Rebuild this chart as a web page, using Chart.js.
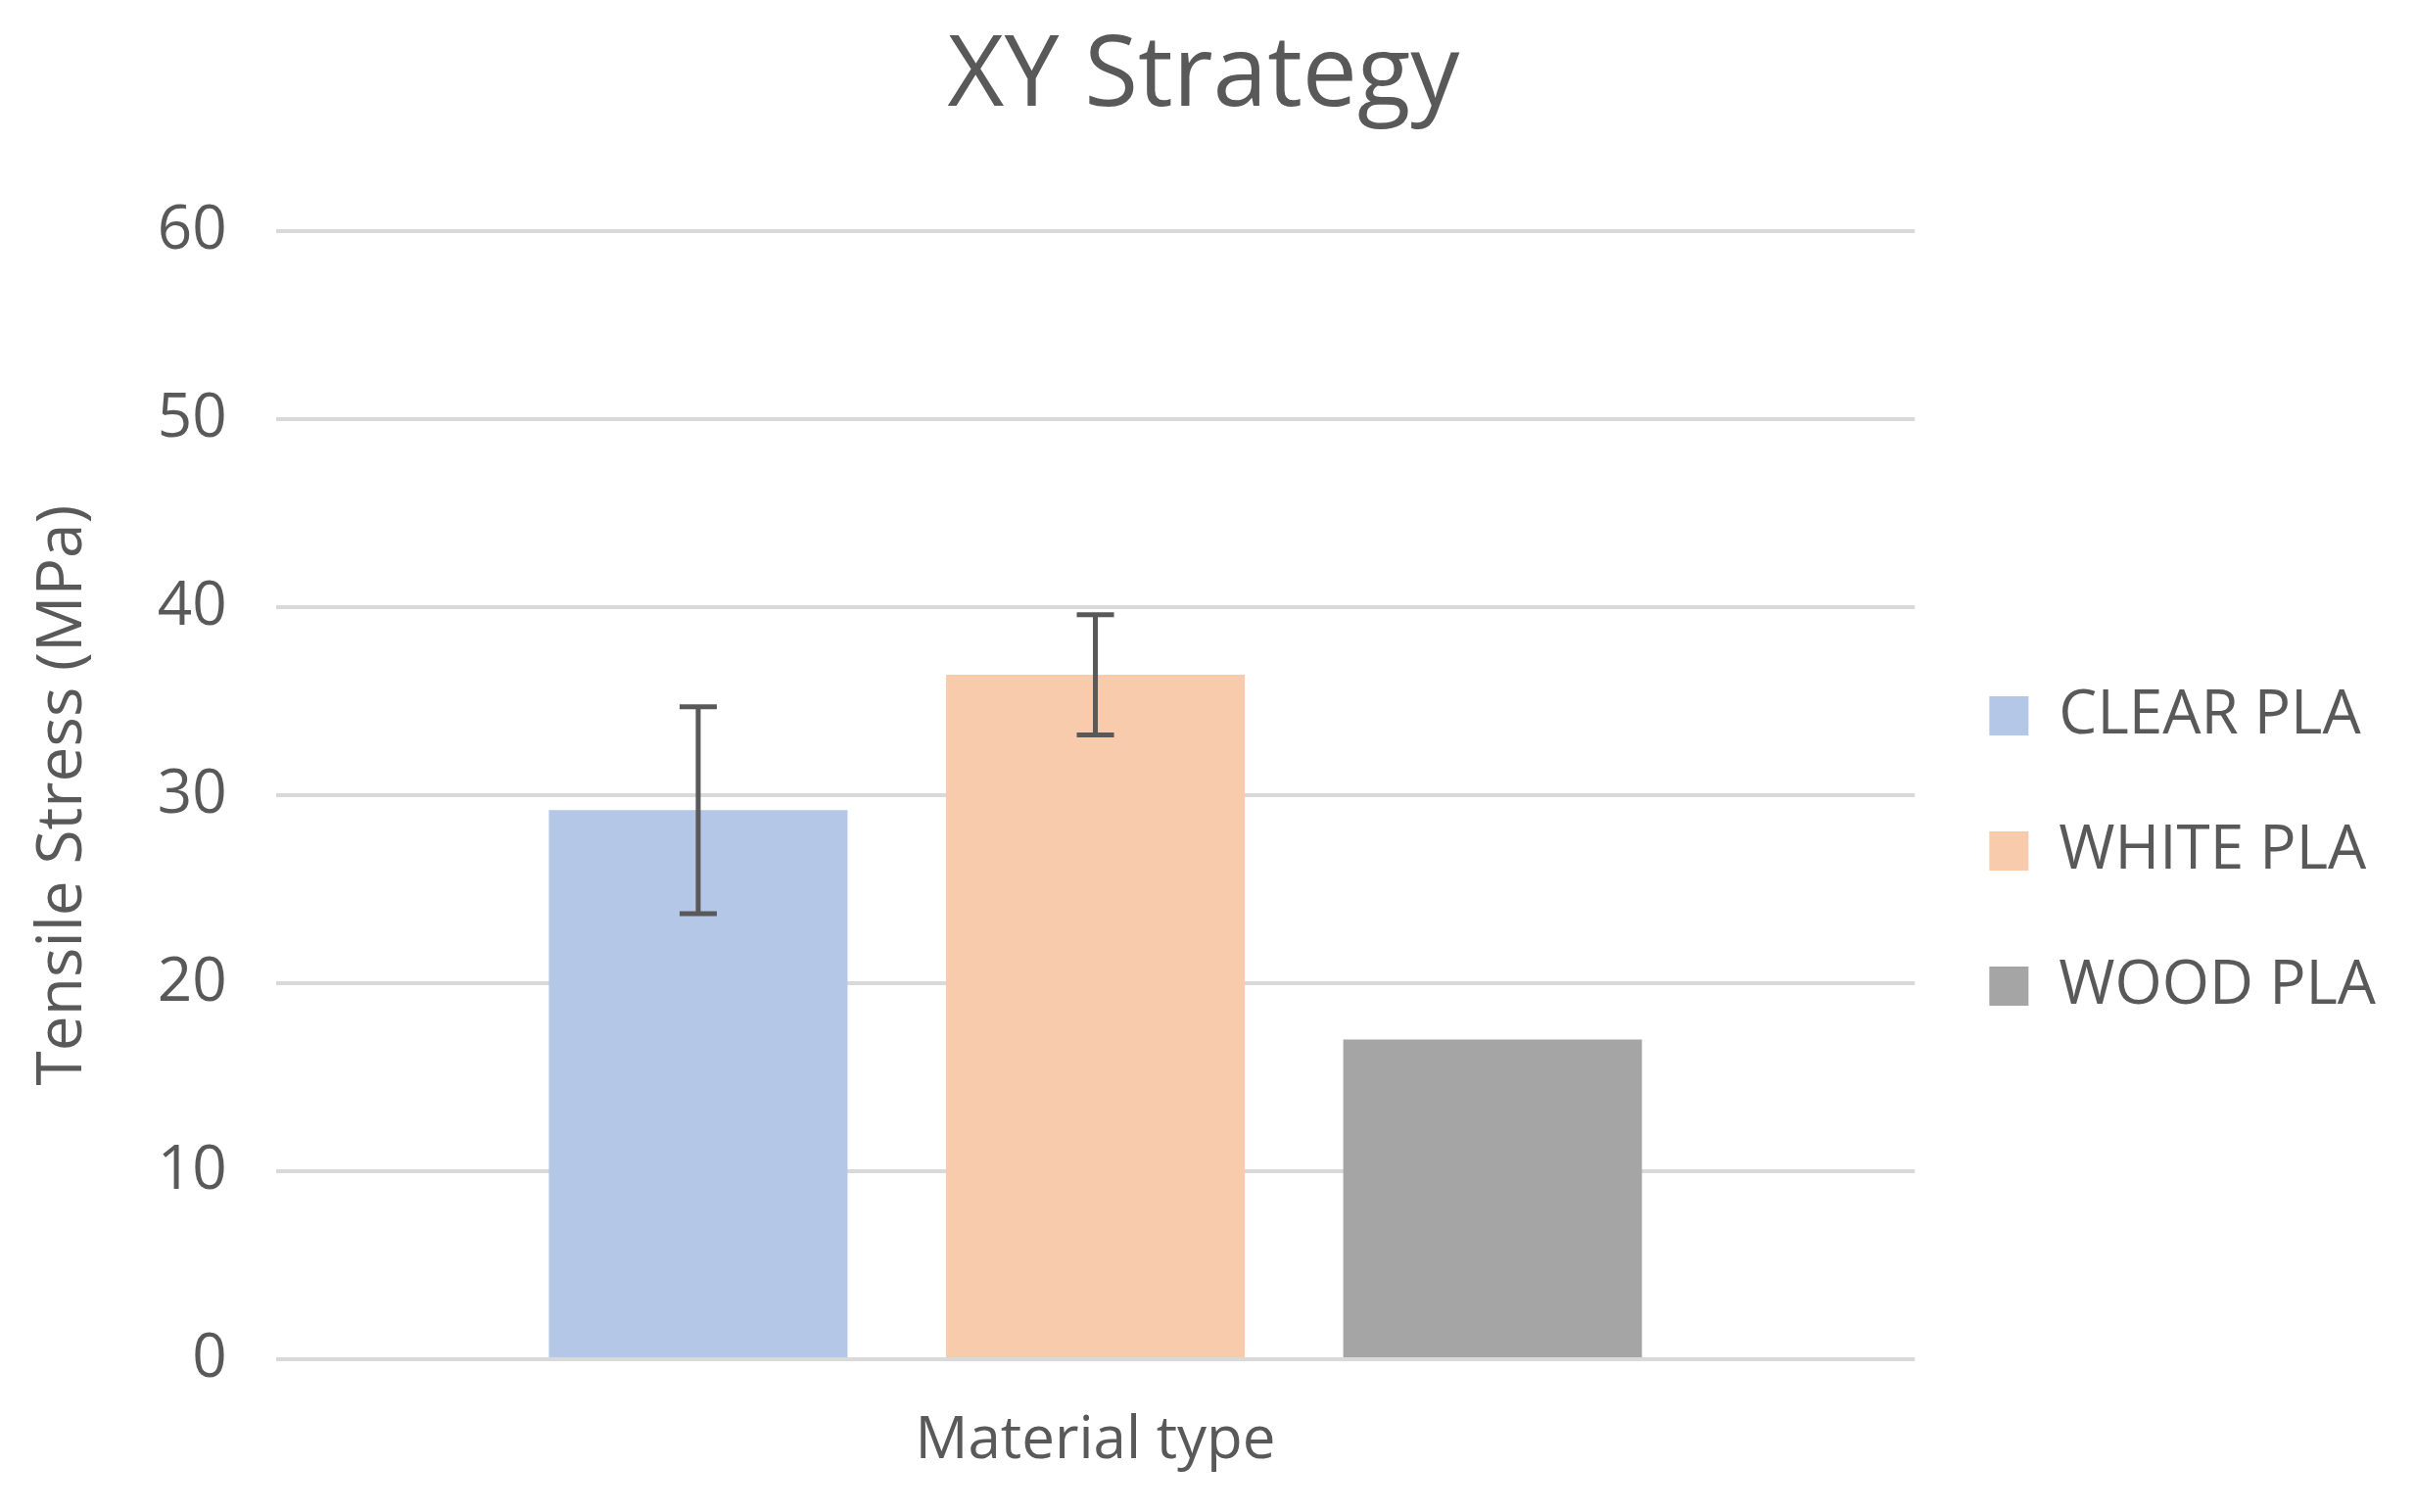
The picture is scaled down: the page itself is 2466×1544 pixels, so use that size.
<!DOCTYPE html>
<html><head><meta charset="utf-8">
<script src="https://cdn.jsdelivr.net/npm/chart.js@4"></script>
<style>html,body{margin:0;background:#fff}#w{width:2466px;height:1544px}</style>
</head><body><div id="w"><canvas id="c"></canvas></div>
<script>
const categories = ['Material type'];
const seriesNames = ['CLEAR PLA','WHITE PLA','WOOD PLA'];
const seriesValues = [29.2, 36.4, 17.0];
const seriesErrors = [5.5, 3.2, null];
const seriesColors = ['#b4c7e7','#f8cbad','#a5a5a5'];
const yTicks = [0,10,20,30,40,50,60];

const errPlugin = {
  id:'err',
  afterDatasetsDraw(chart){
    const ctx=chart.ctx, y=chart.scales.y;
    chart.data.datasets.forEach((ds,i)=>{
      const e=seriesErrors[i]; if(e==null) return;
      const bar=chart.getDatasetMeta(i).data[0];
      const x=bar.x, v=seriesValues[i];
      const t=y.getPixelForValue(v+e), b=y.getPixelForValue(v-e);
      ctx.save(); ctx.strokeStyle='#595959'; ctx.lineWidth=5;
      ctx.beginPath(); ctx.moveTo(x,t); ctx.lineTo(x,b);
      ctx.moveTo(x-19,t); ctx.lineTo(x+19,t);
      ctx.moveTo(x-19,b); ctx.lineTo(x+19,b); ctx.stroke(); ctx.restore();
    });
  }
};
Chart.defaults.font.family='"Open Sans", sans-serif';
Chart.defaults.color='#595959';
new Chart(document.getElementById('c'),{
  type:'bar',
  data:{labels:categories,datasets:seriesNames.map((n,i)=>({label:n,data:[seriesValues[i]],backgroundColor:seriesColors[i]}))},
  options:{responsive:true,maintainAspectRatio:false,animation:false,
    categoryPercentage:0.727,barPercentage:0.752,
    layout:{padding:{left:22,right:30,top:20,bottom:32}},
    plugins:{
      title:{display:true,text:'XY Strategy',font:{size:100,weight:'normal'},color:'#595959',padding:{top:0,bottom:96}},
      legend:{position:'right',
        title:{display:true,text:' ',font:{size:60},padding:{top:0,bottom:134}},
        labels:{boxWidth:40,boxHeight:40,font:{size:62},padding:76,color:'#595959'}},
      tooltip:{enabled:false}
    },
    scales:{
      x:{grid:{display:false},border:{display:false},ticks:{display:false},
        title:{display:true,text:'Material type',font:{size:60},color:'#595959',padding:{top:40}}},
      y:{min:0,max:60,afterBuildTicks:s=>{s.ticks=yTicks.map(v=>({value:v}));},
        grid:{color:'#d9d9d9',lineWidth:4,drawTicks:false},border:{display:false},
        ticks:{font:{size:62},color:'#595959',padding:50},
        title:{display:true,text:'Tensile Stress (MPa)',font:{size:64},color:'#595959',padding:{bottom:8}}}
    }
  },
  plugins:[errPlugin,{id:'lw',beforeLayout(c){},}]
});
</script></body></html>
